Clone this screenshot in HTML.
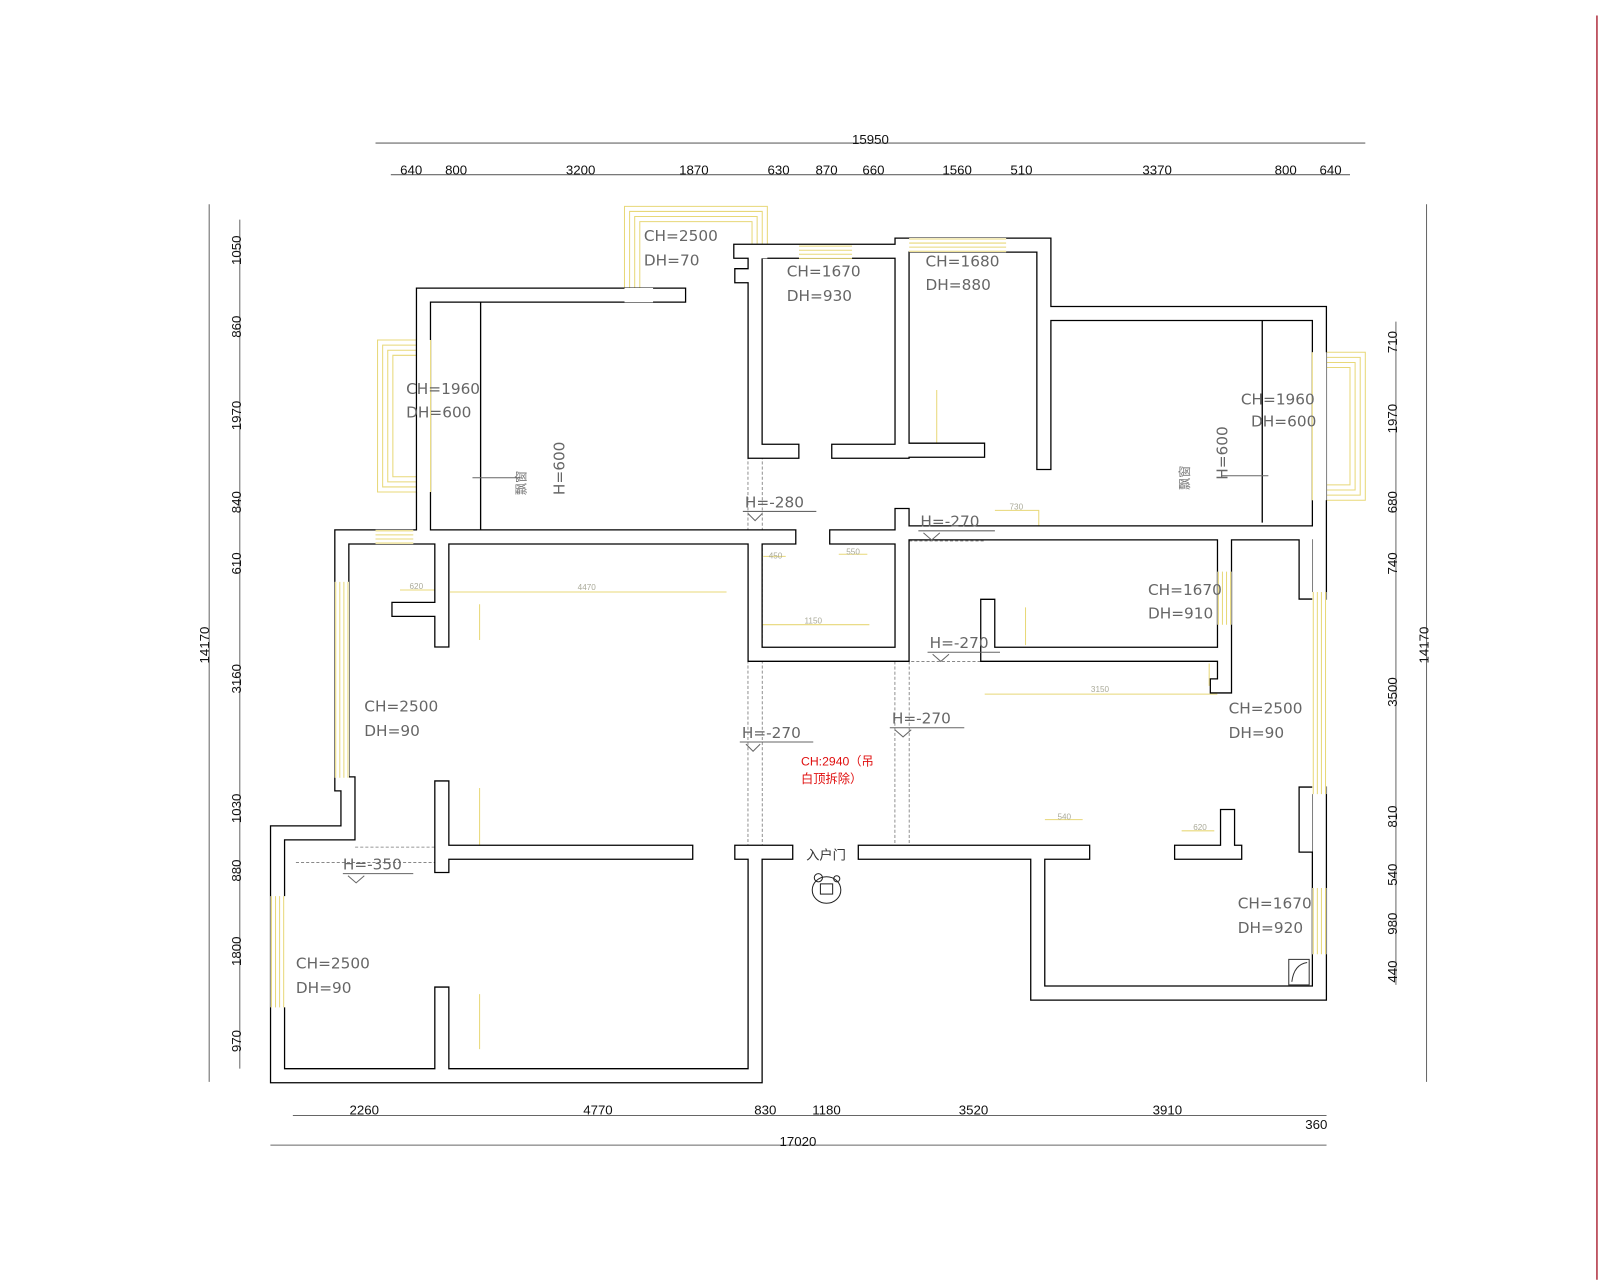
<!DOCTYPE html>
<html><head><meta charset="utf-8"><style>
html,body{margin:0;padding:0;background:#fff;}
svg{display:block;}
.d{font-family:"Liberation Sans",sans-serif;font-size:13px;fill:#111;}
.c{font-family:"DejaVu Sans","Liberation Sans",sans-serif;font-size:15px;fill:#666;}
</style></head><body>
<svg width="1600" height="1280" viewBox="0 0 1568 1254" xmlns="http://www.w3.org/2000/svg">
<rect width="1568" height="1254" fill="#fff"/>
<line x1="1565" y1="15" x2="1565" y2="1254" stroke="#b03040" stroke-width="1.5"/>
<g stroke="#666" stroke-width="1" fill="none">
<line x1="368" y1="140" x2="1338" y2="140"/>
<line x1="383" y1="171" x2="1323" y2="171"/>
<line x1="205" y1="200" x2="205" y2="1060"/>
<line x1="235" y1="215" x2="235" y2="1047"/>
<line x1="1398" y1="200" x2="1398" y2="1060"/>
<line x1="1368" y1="315" x2="1368" y2="965"/>
<line x1="287" y1="1093" x2="1300" y2="1093"/>
<line x1="265" y1="1122" x2="1300" y2="1122"/>
</g>
<g class="d" text-anchor="middle">
<text x="853" y="141">15950</text>
<text x="403" y="171">640</text><text x="447" y="171">800</text><text x="569" y="171">3200</text><text x="680" y="171">1870</text><text x="763" y="171">630</text><text x="810" y="171">870</text><text x="856" y="171">660</text><text x="938" y="171">1560</text><text x="1001" y="171">510</text><text x="1134" y="171">3370</text><text x="1260" y="171">800</text><text x="1304" y="171">640</text>
<text x="357" y="1092">2260</text><text x="586" y="1092">4770</text><text x="750" y="1092">830</text><text x="810" y="1092">1180</text><text x="954" y="1092">3520</text><text x="1144" y="1092">3910</text><text x="1290" y="1106">360</text>
<text x="782" y="1123">17020</text>
<g transform="rotate(-90)">
<text x="-245" y="236">1050</text><text x="-320" y="236">860</text><text x="-407" y="236">1970</text><text x="-492" y="236">840</text><text x="-552" y="236">610</text><text x="-665" y="236">3160</text><text x="-792" y="236">1030</text><text x="-853" y="236">880</text><text x="-932" y="236">1800</text><text x="-1020" y="236">970</text>
<text x="-632" y="205">14170</text>
<text x="-335" y="1369">710</text><text x="-410" y="1369">1970</text><text x="-492" y="1369">680</text><text x="-552" y="1369">740</text><text x="-678" y="1369">3500</text><text x="-800" y="1369">810</text><text x="-857" y="1369">540</text><text x="-905" y="1369">980</text><text x="-952" y="1369">440</text>
<text x="-632" y="1400">14170</text>
</g>
</g>
<g stroke="#777" stroke-width="0.8" stroke-dasharray="3,2" fill="none">
<line x1="733" y1="447" x2="733" y2="828"/><line x1="747" y1="447" x2="747" y2="828"/>
<line x1="877" y1="648" x2="877" y2="828"/><line x1="891" y1="648" x2="891" y2="828"/>
<line x1="733" y1="648" x2="965" y2="648"/><line x1="891" y1="530" x2="965" y2="530"/>
<line x1="290" y1="845" x2="426" y2="845"/><line x1="348" y1="830" x2="426" y2="830"/>
</g>
<g stroke="#e8d878" stroke-width="1" fill="none">
<path d="M612 282V202H752V240M617 282V207H747V240M622 282V212H742V240M627 282V217H737V240"/>
<path d="M408 333H370V482H408M408 338H375V477H408M408 343H380V472H408M408 348H385V467H408"/>
<path d="M1300 345H1338V490H1300M1300 350H1333V485H1300M1300 355H1328V480H1300M1300 360H1323V475H1300"/>
<path d="M441 580H712M392 578H426M470 592V627M470 772V828M470 974V1028M748 545H770M822 543H850M746 612H852M965 680H1193M1185 650V672M1005 595V632M918 382V434M1024 803H1061M1158 814H1190M975 500H1018V515"/>
</g>
<g class="d" style="font-size:8px;fill:#aa9" text-anchor="middle">
<text x="575" y="578">4470</text><text x="408" y="577">620</text><text x="797" y="611">1150</text><text x="1078" y="678">3150</text><text x="760" y="547">450</text><text x="836" y="543">550</text><text x="1043" y="803">540</text><text x="1176" y="813">620</text><text x="996" y="499">730</text>
</g>
<g id="w" fill="none" stroke-linejoin="miter" stroke-linecap="square">
<path d="M415 289H665M415 289V526H773M335 526H415M335 526V768H341V816H272V1054H740V835H770M433 533V627M391 597H426M433 772V848M433 835H672M433 974V1047M740 526V641H884V505M820 526H877M726 246H884M740 253V442H776M822 442H884V240H1023V453M1023 307H1293V519M884 522H1293M958 441H891M1200 526V672H1193M968 594V641H1193M1280 526V580M1293 519V580M1280 778V828M1293 778V973H1017V835M848 835H1061M1158 835H1210M1203 800V835M1293 870V828M727 270H740V296M727 835H746"/>
</g>
<use href="#w" stroke="#000" stroke-width="15"/>
<use href="#w" stroke="#fff" stroke-width="12.5"/>
<line x1="471" y1="296" x2="471" y2="519" stroke="#000" stroke-width="1.3"/>
<line x1="1237" y1="314" x2="1237" y2="512" stroke="#000" stroke-width="1.3"/>
<g fill="#fff" stroke="none">
<rect x="328" y="570" width="14" height="192"/><rect x="1286" y="580" width="14" height="198"/><rect x="265" y="878" width="15" height="109"/>
<rect x="1286" y="870" width="14" height="65"/><rect x="783" y="240" width="52" height="13"/><rect x="891" y="233" width="95" height="14"/>
<rect x="368" y="519" width="37" height="14"/><rect x="1193" y="560" width="14" height="52"/><rect x="409" y="333" width="13" height="149"/><rect x="1286" y="345" width="14" height="145"/><rect x="612" y="282" width="28" height="14"/><rect x="737" y="240" width="15" height="13"/>
</g>
<g stroke="#e8d878" stroke-width="1" fill="none">
<path d="M329 570V762M333 570V762M337 570V762M341 570V762M1287 580V778M1291 580V778M1295 580V778M1299 580V778M266 878V987M270 878V987M274 878V987M278 878V987M1287 870V935M1291 870V935M1295 870V935M1299 870V935M783 241H835M783 245H835M783 249H835M783 253H835M891 234H986M891 238H986M891 242H986M891 246H986M368 520H405M368 524H405M368 528H405M368 532H405M1194 560V612M1198 560V612M1202 560V612M1206 560V612M422 333V482M1286 345V490"/>
</g>
<rect x="1263" y="940" width="20" height="25" fill="none" stroke="#333" stroke-width="1"/>
<path d="M1266 962Q1268 945 1281 943" fill="none" stroke="#333"/>
<g class="c">
<text x="631" y="236">CH=2500</text><text x="631" y="260">DH=70</text>
<text x="771" y="271">CH=1670</text><text x="771" y="295">DH=930</text>
<text x="907" y="261">CH=1680</text><text x="907" y="284">DH=880</text>
<text x="398" y="386">CH=1960</text><text x="398" y="409">DH=600</text>
<text x="1216" y="396">CH=1960</text><text x="1226" y="418">DH=600</text>
<text x="1125" y="583">CH=1670</text><text x="1125" y="606">DH=910</text>
<text x="357" y="697">CH=2500</text><text x="357" y="721">DH=90</text>
<text x="1204" y="699">CH=2500</text><text x="1204" y="723">DH=90</text>
<text x="1213" y="890">CH=1670</text><text x="1213" y="914">DH=920</text>
<text x="290" y="949">CH=2500</text><text x="290" y="973">DH=90</text>
<text x="730" y="497">H=-280</text><text x="902" y="516">H=-270</text><text x="911" y="635">H=-270</text>
<text x="727" y="723">H=-270</text><text x="874" y="709">H=-270</text><text x="336" y="852">H=-350</text>
<text transform="translate(553,485) rotate(-90)">H=600</text>
<text transform="translate(1203,470) rotate(-90)">H=600</text>
</g>
<g style="font-family:'Noto Sans CJK SC',sans-serif;font-size:12px;fill:#777">
<text transform="translate(515,485) rotate(-90)">飘窗</text>
<text transform="translate(1165,480) rotate(-90)">飘窗</text>
</g>
<g stroke="#666" fill="none" stroke-width="1">
<path d="M728 501H800M733 503l7 7 7-7M900 520H975M905 522l8 7 8-7M909 639H980M914 641l8 7 8-7M725 727H797M731 729l7 7 7-7M872 713H945M877 715l8 7 8-7M336 856H405M341 858l8 7 8-7M463 468H510M1197 466H1243"/>
</g>
<text x="785" y="750" style="font-family:'Liberation Sans','Noto Sans CJK SC',sans-serif;font-size:12px;fill:#e01010">CH:2940（吊</text>
<text x="785" y="767" style="font-family:'Liberation Sans','Noto Sans CJK SC',sans-serif;font-size:12px;fill:#e01010">白顶拆除）</text>
<text x="790" y="842" style="font-family:'Noto Sans CJK SC',sans-serif;font-size:13px;fill:#333">入户门</text>
<g transform="translate(810,872)" fill="none" stroke="#222" stroke-width="1"><ellipse cx="0" cy="0" rx="14" ry="13"/><rect x="-6" y="-6" width="12" height="10"/><circle cx="-8" cy="-12" r="4"/><circle cx="10" cy="-11" r="3"/></g>
</svg>
</body></html>
